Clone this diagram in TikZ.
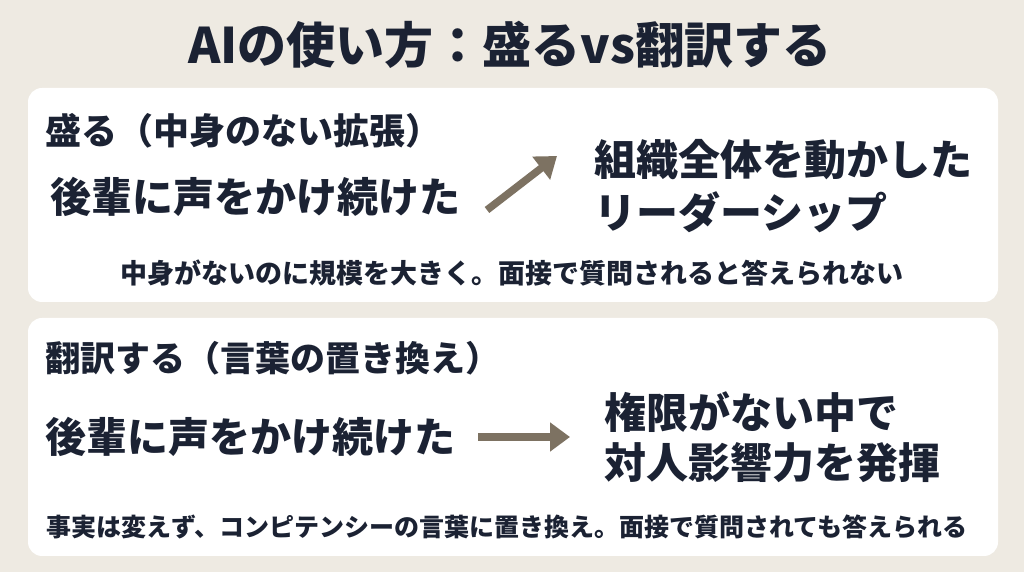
\documentclass[tikz,border=0pt]{standalone}
\usepackage{fontspec}
\setmainfont{Noto Sans CJK JP}
\usetikzlibrary{arrows.meta}
\definecolor{bg}{HTML}{EEEAE2}
\definecolor{ink}{HTML}{1B2233}
\definecolor{arr}{HTML}{7D7262}
\tikzset{
 panel/.style={fill=white,draw=none,rounded corners=14pt},
 t/.style={text=ink,font=\bfseries\fontsize{#1}{#1}\selectfont,inner sep=0pt},
 conn/.style={draw=arr,line width=7.5pt,-{Triangle[length=20pt,width=28pt]}}
}
\begin{document}
\begin{tikzpicture}[x=1pt,y=1pt]
\fill[bg] (0,0) rectangle (1024,572);
\useasboundingbox (0,0) rectangle (1024,572);
\node[t=49] (title) at (510,527) {AIの使い方：盛るvs翻訳する};
\fill[panel] (28,270) rectangle (998,484);
\fill[panel] (28,16) rectangle (998,254);
\node[t=36,anchor=west] (h1) at (45,441) {盛る（中身のない拡張）};
\node[t=41,anchor=west] (a1) at (50,375) {後輩に声をかけ続けた};
\node[t=42,anchor=west] (b1) at (594,412) {組織全体を動かした};
\node[t=42,anchor=west] (b1b) at (594,360) {リーダーシップ};
\coordinate (s1) at (487,362);
\coordinate (e1) at (557,416);
\draw[conn] (s1) -- (e1);
\node[t=27] (n1) at (512,299) {中身がないのに規模を大きく。面接で質問されると答えられない};
\node[t=35,anchor=west] (h2) at (45,214) {翻訳する（言葉の置き換え）};
\node[t=41,anchor=west] (a2) at (45,135) {後輩に声をかけ続けた};
\node[t=42,anchor=west] (b2) at (604,160) {権限がない中で};
\node[t=42,anchor=west] (b2b) at (604,109) {対人影響力を発揮};
\coordinate (s2) at (478,135);
\coordinate (e2) at (570,135);
\draw[conn] (s2) -- (e2);
\node[t=25] (n2) at (507,45) {事実は変えず、コンピテンシーの言葉に置き換え。面接で質問されても答えられる};
\end{tikzpicture}
\end{document}
